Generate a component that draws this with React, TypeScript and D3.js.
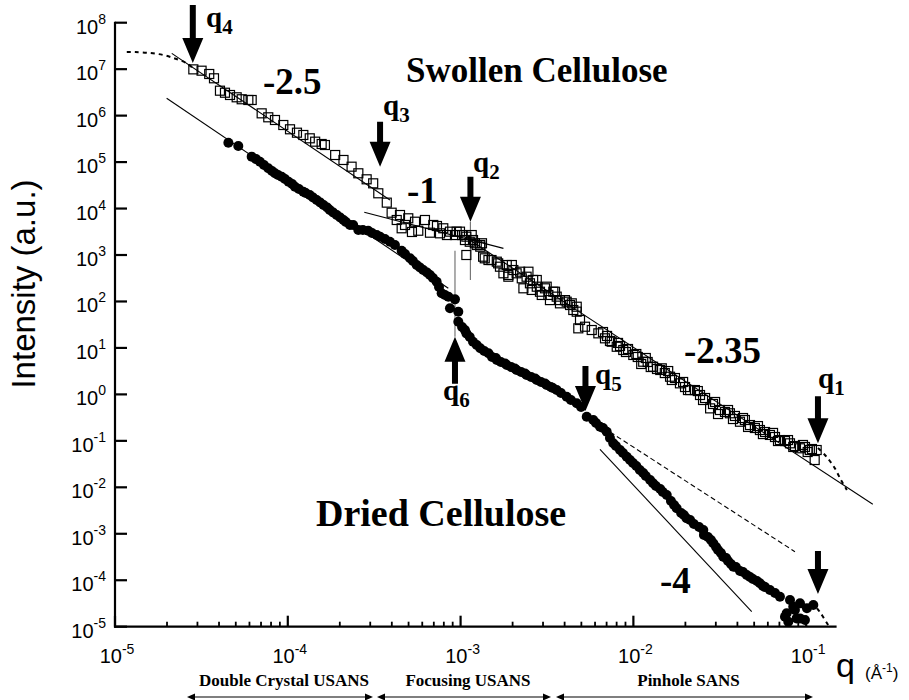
import * as d3 from "d3";

// swollen cellulose (open squares): [q (1/Å), I (a.u.)]
const swollen: [number, number][] = [
  [2.84e-5, 9.9e6], [3.17e-5, 9.27e6], [3.51e-5, 7.87e6], [3.74e-5, 6.36e6], [4.05e-5, 3.44e6],
  [4.33e-5, 3.11e6], [4.63e-5, 2.78e6], [5.06e-5, 2.48e6], [5.41e-5, 2.25e6], [5.91e-5, 2.17e6],
  [6.18e-5, 2.17e6], [7.06e-5, 1.12e6], [7.71e-5, 9.2e5], [8.43e-5, 8.05e5], [9.42e-5, 6.28e5],
  [1.03e-4, 5.08e5], [1.13e-4, 4.29e5], [1.23e-4, 3.83e5], [1.34e-4, 3.25e5], [1.44e-4, 2.75e5],
  [1.57e-4, 2.45e5], [1.64e-4, 2.33e5], [1.88e-4, 1.42e5], [2.10e-4, 1.11e5], [2.34e-4, 7.96e4],
  [2.56e-4, 5.74e4], [2.86e-4, 4.26e4], [3.12e-4, 3.49e4], [3.34e-4, 2.13e4], [3.74e-4, 1.34e4],
  [3.99e-4, 8.14e3], [4.27e-4, 5.67e3], [4.56e-4, 3.76e3], [4.46e-4, 7.26e3], [4.98e-4, 6.17e3],
  [4.77e-4, 4.43e3], [5.23e-4, 3.13e3], [7.3e-4, 4.21e3], [8.34e-4, 2.69e3],
  [5.45e-4, 5.21e3], [5.69e-4, 3.33e3], [6.22e-4, 5.67e3], [6.65e-4, 3.02e3], [6.95e-4, 4.43e3],
  [7.6e-4, 2.93e3], [7.94e-4, 3.76e3], [8.68e-4, 3.18e3], [9.28e-4, 2.69e3], [9.92e-4, 3.18e3],
  [9.49e-4, 3.18e3], [1.02e-3, 2.69e3], [1.08e-3, 2.48e3], [1.13e-3, 1.93e3], [1.18e-3, 2.1e3],
  [1.24e-3, 1.64e3], [1.3e-3, 1.51e3], [1.33e-3, 1.79e3],
  [1.06e-3, 2.1e3], [1.08e-3, 1.0e3], [1.16e-3, 2.69e3], [1.21e-3, 1.79e3], [1.3e-3, 1.64e3],
  [1.38e-3, 849], [1.51e-3, 780], [1.65e-3, 662], [1.77e-3, 404], [1.89e-3, 341],
  [1.35e-3, 919], [1.45e-3, 780], [1.62e-3, 718], [1.69e-3, 560], [1.85e-3, 609],
  [1.89e-3, 372], [2.02e-3, 475], [2.21e-3, 437], [2.26e-3, 315], [2.41e-3, 341],
  [2.52e-3, 246], [2.63e-3, 290], [2.76e-3, 208], [2.88e-3, 162], [3.08e-3, 192],
  [3.22e-3, 138], [3.44e-3, 162], [3.6e-3, 127], [3.76e-3, 107], [4.11e-3, 98.9],
  [4.3e-3, 83.9], [4.49e-3, 65.5], [4.7e-3, 77.1], [4.91e-3, 39.9],
  [1.98e-3, 609], [2.11e-3, 404], [2.31e-3, 192], [2.47e-3, 437], [2.58e-3, 177],
  [2.76e-3, 290], [2.95e-3, 138], [3.15e-3, 208], [3.29e-3, 107], [3.52e-3, 162],
  [3.76e-3, 91.2], [4.02e-3, 107], [4.4e-3, 91.2], [4.7e-3, 60.3], [4.8e-3, 26.4],
  [5.25e-3, 28.6], [5.74e-3, 24.3], [6.27e-3, 20.6], [6.85e-3, 16.1], [7.04e-3, 18.1],
  [7.49e-3, 13.6], [8.01e-3, 10.6], [8.37e-3, 11.0], [8.74e-3, 9.02], [9.31e-3, 9.48],
  [9.99e-3, 7.05], [1.06e-2, 6.38], [1.14e-2, 5.05], [1.21e-2, 4.98], [1.3e-2, 3.94],
  [1.37e-2, 3.52], [1.46e-2, 3.64], [1.52e-2, 2.88], [1.63e-2, 2.4], [1.74e-2, 2.25],
  [1.86e-2, 1.73], [1.99e-2, 1.44], [2.13e-2, 1.24], [2.27e-2, 1.24], [2.43e-2, 0.97],
  [2.6e-2, 0.836], [2.78e-2, 0.5], [2.97e-2, 0.686], [3.17e-2, 0.461], [3.39e-2, 0.418],
  [3.62e-2, 0.392], [3.87e-2, 0.343], [4.14e-2, 0.258], [4.42e-2, 0.281], [4.73e-2, 0.219],
  [5.05e-2, 0.189], [5.4e-2, 0.171], [5.78e-2, 0.155], [6.17e-2, 0.134], [6.6e-2, 0.121],
  [7.05e-2, 0.104], [7.54e-2, 0.0991], [8.06e-2, 0.0885], [8.61e-2, 0.0774], [9.21e-2, 0.0692],
  [9.84e-2, 0.0738], [1.05e-1, 0.0635], [1.12e-1, 0.0387], [1.15e-1, 0.0635],
  [6.67e-3, 22.0], [7.32e-3, 14.1], [8.15e-3, 12.8], [9.06e-3, 8.17], [1.04e-2, 7.4],
  [1.11e-2, 4.51], [1.18e-2, 6.07], [1.26e-2, 3.88], [1.43e-2, 3.35], [1.59e-2, 3.18],
  [1.67e-2, 2.04], [1.94e-2, 1.85], [2.07e-2, 1.24], [2.36e-2, 1.18], [2.53e-2, 0.757],
  [2.89e-2, 0.621], [3.09e-2, 0.378], [3.53e-2, 0.461], [3.77e-2, 0.295], [4.31e-2, 0.31],
  [4.61e-2, 0.199], [5.26e-2, 0.208], [5.62e-2, 0.14], [6.43e-2, 0.148], [6.87e-2, 0.0991],
  [7.85e-2, 0.104], [8.42e-2, 0.0738], [9.58e-2, 0.0815], [1.02e-1, 0.0575], [1.08e-1, 0.0667],
];

// dried cellulose (filled circles)
const dried: [number, number][] = [
  [4.53e-5, 2.61e5], [5.17e-5, 2.22e5], [6.18e-5, 1.31e5], [6.9e-5, 1.02e5], [7.71e-5, 7.35e4],
  [6.55e-5, 1.16e5], [7.28e-5, 8.65e4], [8.1e-5, 6.43e4], [8.78e-5, 5.27e4], [9.63e-5, 4.33e4],
  [1.06e-4, 3.37e4], [1.16e-4, 2.64e4], [1.27e-4, 2.16e4], [1.4e-4, 1.73e4], [1.54e-4, 1.35e4],
  [1.69e-4, 1.05e4], [1.83e-4, 8.22e3], [2.01e-4, 6.41e3], [2.17e-4, 5.13e3], [2.72e-4, 3.45e3],
  [3.07e-4, 2.98e3], [3.65e-4, 2.21e3], [4.17e-4, 1.64e3], [4.77e-4, 1.05e3], [5.3e-4, 743],
  [5.82e-4, 538], [6.39e-4, 420], [6.92e-4, 320], [7.5e-4, 205], [8.12e-4, 138],
  [8.43e-5, 5.74e4], [9.22e-5, 4.84e4], [1.01e-4, 3.78e4], [1.1e-4, 2.95e4], [1.23e-4, 2.3e4],
  [1.34e-4, 1.95e4], [1.47e-4, 1.53e4], [1.61e-4, 1.19e4], [1.75e-4, 9.31e3], [1.92e-4, 7.26e3],
  [2.1e-4, 5.67e3], [2.29e-4, 4.43e3], [2.39e-4, 4.43e3], [2.56e-4, 3.45e3], [2.92e-4, 3.33e3],
  [3.27e-4, 2.69e3], [3.42e-4, 2.48e3], [3.9e-4, 1.93e3], [4.56e-4, 1.24e3], [5.1e-4, 849],
  [5.57e-4, 609], [6.08e-4, 475], [6.65e-4, 372], [7.27e-4, 266], [7.77e-4, 150],
  [8.49e-4, 127], [9.28e-4, 111], [8.68e-4, 71.3], [9.7e-4, 60.3], [9.7e-4, 36.6],
  [1.02e-3, 28.2], [1.08e-3, 20.6], [1.13e-3, 17.2], [1.18e-3, 13.6], [1.24e-3, 11.6],
  [1.06e-3, 24.3], [1.6e-3, 6.07], [1.81e-3, 4.62], [2.06e-3, 3.61], [2.36e-3, 2.81],
  [2.7e-3, 2.2], [3.08e-3, 1.71], [3.42e-3, 1.37], [4.35e-3, 0.757], [4.98e-3, 0.535],
  [6.08e-3, 0.242], [6.67e-3, 0.189], [7.32e-3, 0.115], [7.93e-3, 0.0774], [8.71e-3, 0.0547],
  [9.56e-3, 0.0387], [1.04e-2, 0.0288], [1.14e-2, 0.0203], [1.25e-2, 0.0144], [1.35e-2, 0.0107],
  [1.48e-2, 7.93e-3], [1.72e-2, 4.16e-3], [1.96e-2, 2.54e-3], [2.13e-2, 1.98e-3], [2.4e-2, 1.4e-3],
  [2.56e-2, 9.4e-4], [2.81e-2, 7.35e-4], [3.01e-2, 5.19e-4], [3.21e-2, 3.85e-4], [3.44e-2, 3.0e-4],
  [3.67e-2, 2.23e-4], [3.92e-2, 1.92e-4], [4.31e-2, 1.5e-4], [4.73e-2, 1.17e-4], [5.19e-2, 9.61e-5],
  [5.62e-2, 7.5e-5], [7.54e-2, 1.64e-5], [7.88e-2, 1.28e-5], [9.21e-2, 1.51e-5], [1.1e-1, 2.92e-5],
  [8.61e-2, 2.29e-5],
  [1.3e-3, 9.82], [1.37e-3, 8.59], [1.45e-3, 7.66], [1.52e-3, 6.38], [1.62e-3, 5.5],
  [1.71e-3, 4.98], [1.85e-3, 4.3], [1.96e-3, 3.88], [2.11e-3, 3.35], [2.24e-3, 3.03],
  [2.41e-3, 2.61], [2.56e-3, 2.37], [2.76e-3, 2.04], [2.92e-3, 1.85], [3.15e-3, 1.59],
  [3.33e-3, 1.44], [3.6e-3, 1.24], [3.81e-3, 1.07], [4.11e-3, 0.891], [4.7e-3, 0.643],
  [5.37e-3, 0.331], [5.86e-3, 0.281], [6.41e-3, 0.201], [7.01e-3, 0.157], [7.65e-3, 0.0885],
  [8.37e-3, 0.0635], [9.15e-3, 0.0456], [9.95e-3, 0.0333], [1.09e-2, 0.0236], [1.18e-2, 0.0175],
  [1.3e-2, 0.0122], [1.43e-2, 9.18e-3], [1.56e-2, 6.81e-3], [1.65e-2, 5.07e-3], [1.78e-2, 3.53e-3],
  [1.89e-2, 2.8e-3], [2.03e-2, 2.15e-3], [2.24e-2, 1.62e-3], [2.54e-2, 1.21e-3], [2.7e-2, 8.51e-4],
  [2.9e-2, 6.24e-4], [3.09e-2, 4.47e-4], [3.31e-2, 3.21e-4], [3.53e-2, 2.59e-4], [3.79e-2, 1.95e-4],
  [4.14e-2, 1.58e-4], [4.53e-2, 1.3e-4], [4.92e-2, 1.06e-4], [5.4e-2, 8.59e-5], [5.78e-2, 7.14e-5],
  [6.17e-2, 6.15e-5], [6.6e-2, 5.31e-5], [7.05e-2, 4.42e-5], [8.06e-2, 3.75e-5], [7.71e-2, 1.94e-5],
  [8.42e-2, 2.69e-5], [9.21e-2, 3.18e-5], [8.81e-2, 1.51e-5], [1.01e-1, 2.49e-5], [9.84e-2, 1.39e-5],
];

// straight power-law guides (solid or dashed)
const guides: { pts: [number, number][]; dash?: string }[] = [
  { pts: [[2.13e-5, 2.19e7], [3.9e-4, 1.53e4]] },          // swollen -2.5
  { pts: [[2.77e-4, 8.3e3], [1.77e-3, 1.39e3]] },          // swollen -1
  { pts: [[1.13e-3, 2.1e3], [2.43e-1, 4.31e-3]] },         // swollen -2.35
  { pts: [[1.99e-5, 2.36e6], [8.49e-4, 192]] },            // dried -2.5
  { pts: [[5.61e-3, 0.295], [8.61e-2, 4.11e-4]], dash: "5,3" }, // dried extension
  { pts: [[6.41e-3, 0.0658], [4.84e-2, 2.1e-5]] },         // -4
];

// dotted model curves
const swollenLowQ: [number, number][] = [
  [1.17e-5, 2.34e7], [1.31e-5, 2.34e7], [1.59e-5, 2.23e7], [1.9e-5, 2.02e7], [2.22e-5, 1.7e7],
  [2.58e-5, 1.36e7], [2.83e-5, 1.06e7],
];
const swollenHighQ: [number, number][] = [
  [1.17e-1, 7.01e-2], [1.3e-1, 4.72e-2], [1.45e-1, 2.74e-2], [1.59e-1, 1.44e-2], [1.72e-1, 8.75e-3],
];
const driedHighQ: [number, number][] = [
  [1.08e-1, 3.39e-5], [1.2e-1, 2.07e-5], [1.34e-1, 1.09e-5],
];

// arrows: tip position in data units, direction, length in px
const arrows = [
  { q: 2.82e-5, I: 1.36e7, up: false, len: 58, label: "4", lx: 206, ly: 27 },
  { q: 3.42e-4, I: 7.96e4, up: false, len: 45, label: "3", lx: 383, ly: 115 },
  { q: 1.14e-3, I: 5.21e3, up: false, len: 45, label: "2", lx: 473, ly: 172 },
  { q: 9.28e-4, I: 17.5, up: true, len: 47, label: "6", lx: 443, ly: 400 },
  { q: 5.28e-3, I: 0.439, up: false, len: 45, label: "5", lx: 595, ly: 384 },
  { q: 1.17e-1, I: 8.85e-2, up: false, len: 47, label: "1", lx: 818, ly: 388 },
  { q: 1.17e-1, I: 5.04e-5, up: false, len: 43, label: "", lx: 0, ly: 0 },
];

// thin grey markers below q2 and above q6
const markers: [number, number, number][] = [
  [1.14e-3, 5.21e3, 290],
  [9.28e-4, 1.24e3, 17.5],
];

const xTickExp = [-5, -4, -3, -2, -1];
const yTickExp = [8, 7, 6, 5, 4, 3, 2, 1, 0, -1, -2, -3, -4, -5];

const slopes = [
  { text: "-2.5", x: 263, y: 94 },
  { text: "-1", x: 407, y: 203 },
  { text: "-2.35", x: 684, y: 363 },
  { text: "-4", x: 660, y: 593 },
];

const rangeBands = [
  { text: "Double Crystal USANS", x0: 187, x1: 373 },
  { text: "Focusing USANS", x0: 377, x1: 551 },
  { text: "Pinhole SANS", x0: 556, x1: 813 },
];

const SERIF = "'Liberation Serif', 'Times New Roman', serif";
const SANS = "'Liberation Sans', Arial, Helvetica, sans-serif";

export default function App() {
  const x = d3.scaleLog().domain([1e-5, 0.15]).range([115, 836.6]);
  const y = d3.scaleLog().domain([1e-5, 1e8]).range([626.7, 22.7]);
  const line = d3.line<[number, number]>().x((d) => x(d[0])).y((d) => y(d[1]));
  const curve = d3
    .line<[number, number]>()
    .x((d) => x(d[0]))
    .y((d) => y(d[1]))
    .curve(d3.curveCatmullRom);

  const minor: number[] = [];
  for (let e = -5; e < 0; e++) for (let m = 2; m <= 9; m++) {
    const v = m * Math.pow(10, e);
    if (v <= 0.15) minor.push(v);
  }

  const arrowPath = (cx: number, ty: number, up: boolean, len: number) => {
    const s = up ? -1 : 1;
    const h = 25, hw = 10.5, sw = 3;
    const tail = ty - s * len, base = ty - s * h;
    return `M${cx - sw},${tail}L${cx + sw},${tail}L${cx + sw},${base}L${cx + hw},${base}L${cx},${ty}L${cx - hw},${base}L${cx - sw},${base}Z`;
  };

  const axisY = y(1e-5);
  const axisX = x(1e-5);

  return (
    <svg width={909} height={700} style={{ position: "absolute", left: 0, top: 0, background: "#fff" }}>
      {/* guide lines */}
      {guides.map((g, i) => (
        <path key={i} d={line(g.pts) || ""} fill="none" stroke="#000" strokeWidth={1.1} strokeDasharray={g.dash} />
      ))}
      <path d={curve(swollenLowQ) || ""} fill="none" stroke="#000" strokeWidth={2} strokeDasharray="4,4" />
      <path d={curve(swollenHighQ) || ""} fill="none" stroke="#000" strokeWidth={2} strokeDasharray="4,4" />
      <path d={curve(driedHighQ) || ""} fill="none" stroke="#000" strokeWidth={2} strokeDasharray="4,4" />
      {markers.map(([q, a, b], i) => (
        <line key={i} x1={x(q)} x2={x(q)} y1={y(a)} y2={y(b)} stroke="#777" strokeWidth={1.2} />
      ))}

      {/* data */}
      <g fill="none" stroke="#000" strokeWidth={1.2}>
        {swollen.map(([q, I], i) => (
          <rect key={i} x={x(q) - 4.5} y={y(I) - 4.5} width={9} height={9} />
        ))}
      </g>
      <g fill="#000">
        {dried.map(([q, I], i) => (
          <circle key={i} cx={x(q)} cy={y(I)} r={5} />
        ))}
      </g>

      {/* axes */}
      <g stroke="#000" strokeWidth={2.2} fill="none">
        <line x1={axisX} x2={axisX} y1={y(1e8) - 1} y2={axisY + 1} />
        <line x1={axisX - 1} x2={x(0.15)} y1={axisY} y2={axisY} />
        {yTickExp.map((e) => (
          <line key={e} x1={axisX} x2={axisX + 12} y1={y(Math.pow(10, e))} y2={y(Math.pow(10, e))} />
        ))}
        {xTickExp.map((e) => (
          <line key={e} x1={x(Math.pow(10, e))} x2={x(Math.pow(10, e))} y1={axisY} y2={axisY - 11} />
        ))}
        {minor.map((v, i) => (
          <line key={i} x1={x(v)} x2={x(v)} y1={axisY} y2={axisY - 5} strokeWidth={1.8} />
        ))}
      </g>

      <g fontFamily={SANS} fill="#000">
        {yTickExp.map((e) => (
          <text key={e} x={106} y={y(Math.pow(10, e)) + 11} textAnchor="end" fontSize={20}>
            10<tspan dy={-10} fontSize={14}>{e}</tspan>
          </text>
        ))}
        {xTickExp.map((e) => (
          <text key={e} x={x(Math.pow(10, e)) + 2} y={663} textAnchor="middle" fontSize={20}>
            10<tspan dy={-9} fontSize={14}>{e}</tspan>
          </text>
        ))}
        <text transform="translate(35,284) rotate(-90)" textAnchor="middle" fontSize={33}>
          Intensity (a.u.)
        </text>
        <text x={836} y={677} fontSize={34}>q</text>
        <text x={865} y={679} fontSize={17}>
          (Å<tspan dy={-7} fontSize={12}>-1</tspan><tspan dy={7}>)</tspan>
        </text>
      </g>

      {/* arrows and labels */}
      {arrows.map((a, i) => (
        <g key={i}>
          <path d={arrowPath(x(a.q), y(a.I), a.up, a.len)} fill="#000" />
          {a.label && (
            <text x={a.lx} y={a.ly} fontFamily={SERIF} fontWeight="bold" fontSize={29}>
              q<tspan dy={7} fontSize={21}>{a.label}</tspan>
            </text>
          )}
        </g>
      ))}

      <g fontFamily={SERIF} fontWeight="bold" fill="#000">
        {slopes.map((s) => (
          <text key={s.text} x={s.x} y={s.y} fontSize={37}>{s.text}</text>
        ))}
        <text x={406} y={82} fontSize={35}>Swollen Cellulose</text>
        <text x={316} y={526} fontSize={38}>Dried Cellulose</text>
        {rangeBands.map((b) => (
          <g key={b.text}>
            <text x={(b.x0 + b.x1) / 2 + 4} y={686} textAnchor="middle" fontSize={17}>{b.text}</text>
            <line x1={b.x0 + 6} x2={b.x1 - 6} y1={697} y2={697} stroke="#000" strokeWidth={1.2} />
            <path d={`M${b.x0},697l8,-3.5v7z`} />
            <path d={`M${b.x1},697l-8,-3.5v7z`} />
          </g>
        ))}
      </g>
    </svg>
  );
}
